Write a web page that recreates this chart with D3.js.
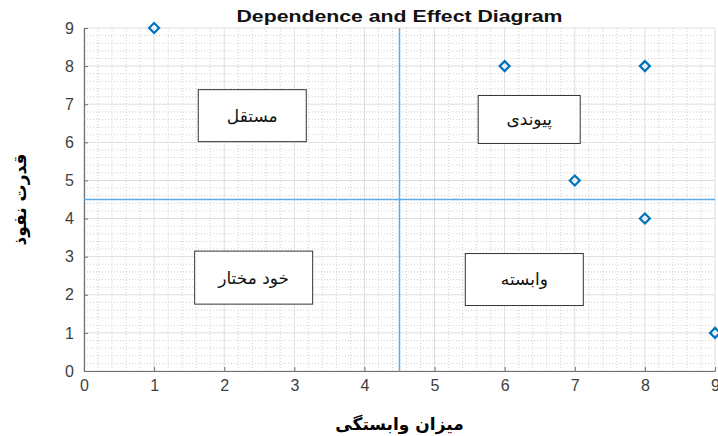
<!DOCTYPE html>
<html>
<head>
<meta charset="utf-8">
<script src="https://cdn.jsdelivr.net/npm/d3@7"></script>
<style>
  html, body { margin: 0; padding: 0; background: #fff; }
  svg { display: block; }
</style>
</head>
<body>
<svg id="chart" width="718" height="436"></svg>
<script>
// ---- data ----
const xValues = [1, 6, 8, 7, 8, 9];
const yValues = [9, 8, 8, 5, 4, 1];
const xTicks = [0, 1, 2, 3, 4, 5, 6, 7, 8, 9];
const yTicks = [0, 1, 2, 3, 4, 5, 6, 7, 8, 9];
const refX = [4.5];
const refY = [4.5];
const boxLabels = ["مستقل", "پیوندی", "خود مختار", "وابسته"];
const boxX = [2.4, 6.35, 2.42, 6.28];      // label centres (data units)
const boxY = [6.7, 6.6, 2.45, 2.4];
const titleText = "Dependence and Effect Diagram";
const xLabelText = "میزان وابستگی";
const yLabelText = "قدرت نفوذ";

// ---- layout ----
const W = 718, H = 436;
const m = { left: 84, right: 3, top: 28, bottom: 65 };
const svg = d3.select("#chart");
const x = d3.scaleLinear().domain([0, 9]).range([m.left, W - m.right]);
const y = d3.scaleLinear().domain([0, 9]).range([H - m.bottom, m.top]);

const g = svg.append("g");

// minor grid
const minor = d3.range(0, 9.001, 0.2).filter(v => Math.abs(v - Math.round(v)) > 1e-6);
g.append("g").selectAll("line").data(minor).join("line")
  .attr("x1", d => x(d)).attr("x2", d => x(d))
  .attr("y1", y(0)).attr("y2", y(9))
  .attr("stroke", "#bdbdbd").attr("stroke-width", 0.7).attr("stroke-dasharray", "1,2");
g.append("g").selectAll("line").data(minor).join("line")
  .attr("y1", d => y(d)).attr("y2", d => y(d))
  .attr("x1", x(0)).attr("x2", x(9))
  .attr("stroke", "#bdbdbd").attr("stroke-width", 0.7).attr("stroke-dasharray", "1,2");

// major grid
g.append("g").selectAll("line").data(xTicks).join("line")
  .attr("x1", d => x(d)).attr("x2", d => x(d))
  .attr("y1", y(0)).attr("y2", y(9))
  .attr("stroke", "#dedede").attr("stroke-width", 1);
g.append("g").selectAll("line").data(yTicks).join("line")
  .attr("y1", d => y(d)).attr("y2", d => y(d))
  .attr("x1", x(0)).attr("x2", x(9))
  .attr("stroke", "#dedede").attr("stroke-width", 1);

// axes
const xAxis = d3.axisBottom(x).tickValues(xTicks).tickSizeInner(-4).tickSizeOuter(0).tickPadding(9);
const yAxis = d3.axisLeft(y).tickValues(yTicks).tickSizeInner(-4).tickSizeOuter(0).tickPadding(10);
const ax = svg.append("g").attr("transform", `translate(0,${y(0)})`).call(xAxis);
const ay = svg.append("g").attr("transform", `translate(${x(0)},0)`).call(yAxis);
[ax, ay].forEach(a => {
  a.select(".domain").attr("stroke", "#707070").attr("stroke-width", 1.2);
  a.selectAll(".tick line").attr("stroke", "#707070");
  a.selectAll(".tick text").attr("fill", "#404040").attr("font-size", 16)
    .attr("font-family", "Liberation Sans, Arial, sans-serif");
});

// reference lines
svg.append("g").selectAll("line").data(refX).join("line")
  .attr("x1", d => x(d)).attr("x2", d => x(d))
  .attr("y1", y(0)).attr("y2", y(9))
  .attr("stroke", "#5eaae6").attr("stroke-width", 1.5);
svg.append("g").selectAll("line").data(refY).join("line")
  .attr("y1", d => y(d)).attr("y2", d => y(d))
  .attr("x1", x(0)).attr("x2", x(9))
  .attr("stroke", "#5eaae6").attr("stroke-width", 1.5);

// markers
const pts = xValues.map((v, i) => ({ x: v, y: yValues[i] }));
svg.append("g").selectAll("path").data(pts).join("path")
  .attr("transform", d => `translate(${x(d.x)},${y(d.y)})`)
  .attr("d", "M0,-5L5,0L0,5L-5,0Z")
  .attr("fill", "none").attr("stroke", "#0072BD").attr("stroke-width", 2.2);

// text boxes
const bw = [108, 102, 118, 118], bh = [52, 48, 53, 52];
const boxes = svg.append("g").selectAll("g").data(boxLabels).join("g")
  .attr("transform", (d, i) => `translate(${x(boxX[i])},${y(boxY[i])})`);
boxes.append("rect")
  .attr("x", (d, i) => -bw[i] / 2).attr("y", (d, i) => -bh[i] / 2)
  .attr("width", (d, i) => bw[i]).attr("height", (d, i) => bh[i])
  .attr("fill", "#fff").attr("stroke", "#333").attr("stroke-width", 1);
boxes.append("text")
  .attr("text-anchor", "middle").attr("dy", "0.35em")
  .attr("direction", "rtl")
  .attr("font-family", "DejaVu Sans, sans-serif").attr("font-size", 17)
  .attr("fill", "#111")
  .text(d => d);

// title
svg.append("text").attr("x", (x(0) + x(9)) / 2).attr("y", 22)
  .attr("text-anchor", "middle")
  .attr("font-family", "Liberation Sans, Arial, sans-serif")
  .attr("font-weight", "bold").attr("font-size", 17).attr("fill", "#111")
  .attr("textLength", 326).attr("lengthAdjust", "spacingAndGlyphs")
  .text(titleText);

// axis labels
svg.append("text").attr("x", (x(0) + x(9)) / 2).attr("y", 430)
  .attr("text-anchor", "middle").attr("direction", "rtl")
  .attr("font-family", "DejaVu Sans, sans-serif")
  .attr("font-weight", "bold").attr("font-size", 17).attr("fill", "#000")
  .text(xLabelText);
svg.append("text")
  .attr("transform", `translate(26,${(y(0) + y(9)) / 2}) rotate(-90)`)
  .attr("text-anchor", "middle").attr("direction", "rtl")
  .attr("font-family", "DejaVu Sans, sans-serif")
  .attr("font-weight", "bold").attr("font-size", 17).attr("fill", "#000")
  .text(yLabelText);
</script>
</body>
</html>
